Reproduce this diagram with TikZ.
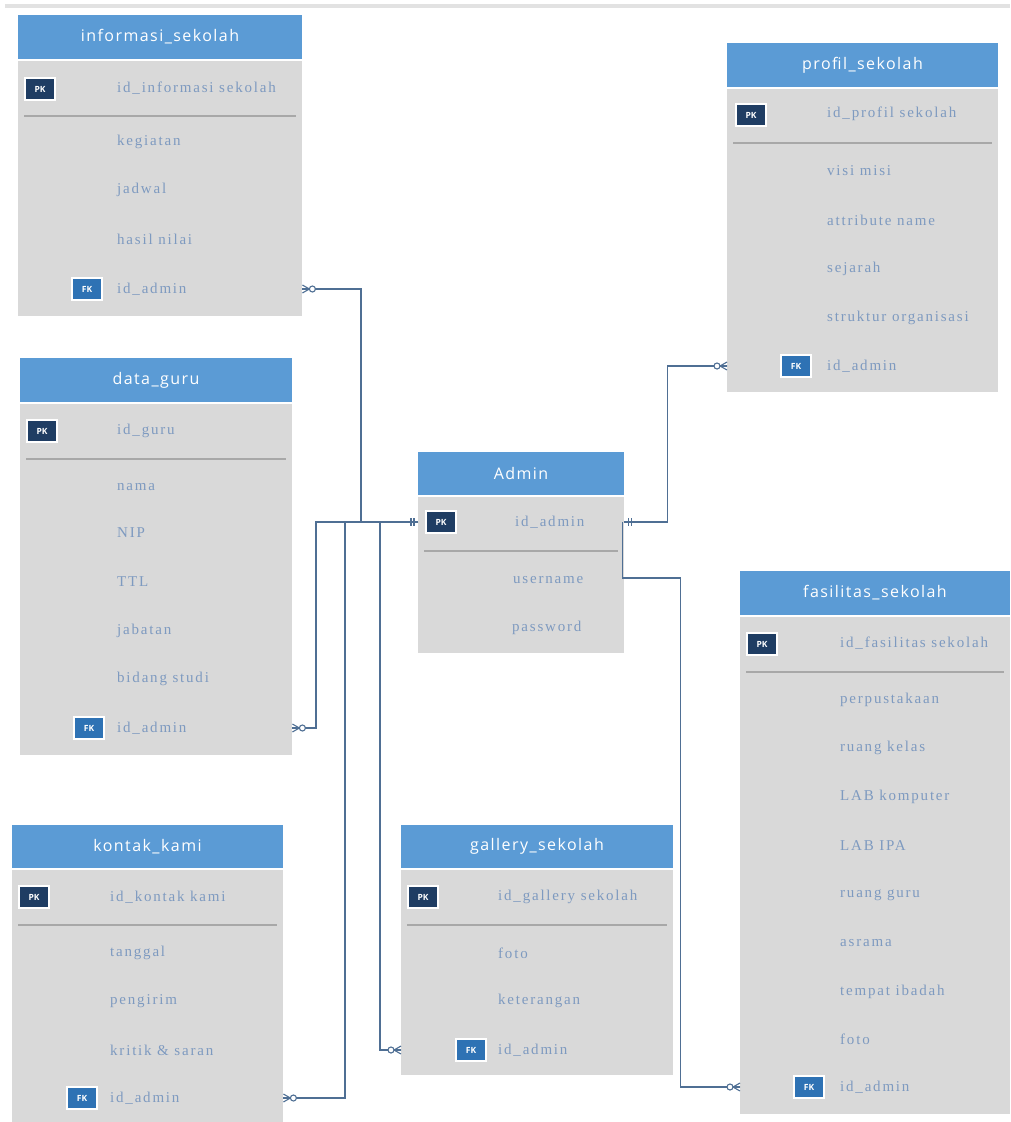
\documentclass[tikz,border=0pt]{standalone}
\usepackage{fontspec}
\setmainfont{Liberation Serif}
\newfontfamily\hdrfont[LetterSpace=9]{Open Sans}
\newfontfamily\attrfont[LetterSpace=12]{Liberation Serif}
\newfontfamily\badgefont{Open Sans}
\definecolor{hdrblue}{HTML}{5B9BD5}
\definecolor{bodygrey}{HTML}{D9D9D9}
\definecolor{attrblue}{HTML}{7E9AC0}
\definecolor{pknavy}{HTML}{1F3D63}
\definecolor{fkblue}{HTML}{2E72B4}
\definecolor{sepgrey}{HTML}{A8A8A8}
\definecolor{conncol}{HTML}{4F6F94}
\definecolor{topline}{HTML}{E2E2E2}
\tikzset{
  hdr/.style={fill=hdrblue, text=white, font=\hdrfont\fontsize{16}{19}\selectfont, inner sep=0},
  tbody/.style={fill=bodygrey, inner sep=0, anchor=north west},
  attr/.style={text=attrblue, font=\attrfont\fontsize{15}{17}\selectfont, anchor=west, inner sep=0},
  pkbadge/.style={fill=pknavy, draw=white, line width=1.5pt, text=white,
    font=\badgefont\bfseries\fontsize{8.5}{9}\selectfont, minimum width=30, minimum height=22, inner sep=0},
  fkbadge/.style={pkbadge, fill=fkblue},
  sepline/.style={draw=sepgrey, line width=1.2pt},
  conn/.style={draw=conncol, line width=1.4pt},
  marker/.style={draw=conncol, line width=1.1pt},
  zmany/.pic={\draw[marker] (0,-4) -- (7,0) -- (0,4) (0,0) -- (7,0);
              \draw[marker, fill=white] (10,0) circle (3);},
  onlyone/.pic={\draw[marker] (4,-4) -- (4,4) (7,-4) -- (7,4);}
}
\begin{document}
\begin{tikzpicture}[x=1pt,y=-1pt]
\useasboundingbox (0,0) rectangle (1010,1122);
\fill[topline] (5,4) rectangle (1010,8);

% ---------- informasi_sekolah ----------
\node[tbody, minimum width=284, minimum height=255] (infoB) at (18,61) {};
\node[hdr, minimum width=284, minimum height=44] (infoH) at (160,37) {informasi\_sekolah};
\node[pkbadge] (infoPKb) at (40,89) {PK};
\node[attr] (infoPK) at (117,88) {id\_informasi sekolah};
\draw[sepline] (24,116) -- (296,116);
\node[attr] (info1) at (117,142) {kegiatan};
\node[attr] (info2) at (117,190) {jadwal};
\node[attr] (info3) at (117,239) {hasil nilai};
\node[fkbadge] (infoFKb) at (87,289) {FK};
\node[attr] (infoFK) at (117,289) {id\_admin};

% ---------- profil_sekolah ----------
\node[tbody, minimum width=271, minimum height=303] (profB) at (727,89) {};
\node[hdr, minimum width=271, minimum height=44] (profH) at (862.5,65) {profil\_sekolah};
\node[pkbadge] (profPKb) at (751,115) {PK};
\node[attr] (profPK) at (827,114) {id\_profil sekolah};
\draw[sepline] (733,143) -- (992,143);
\node[attr] (prof1) at (827,171) {visi misi};
\node[attr] (prof2) at (827,220) {attribute name};
\node[attr] (prof3) at (827,269) {sejarah};
\node[attr] (prof4) at (827,318) {struktur organisasi};
\node[fkbadge] (profFKb) at (796,366) {FK};
\node[attr] (profFK) at (827,366) {id\_admin};

% ---------- data_guru ----------
\node[tbody, minimum width=272, minimum height=351] (guruB) at (20,404) {};
\node[hdr, minimum width=272, minimum height=44] (guruH) at (156,380) {data\_guru};
\node[pkbadge] (guruPKb) at (42,431) {PK};
\node[attr] (guruPK) at (117,431) {id\_guru};
\draw[sepline] (26,459) -- (286,459);
\node[attr] (guru1) at (117,487) {nama};
\node[attr] (guru2) at (117,533) {NIP};
\node[attr] (guru3) at (117,582) {TTL};
\node[attr] (guru4) at (117,631) {jabatan};
\node[attr] (guru5) at (117,679) {bidang studi};
\node[fkbadge] (guruFKb) at (89,728) {FK};
\node[attr] (guruFK) at (117,728) {id\_admin};

% ---------- Admin ----------
\node[tbody, minimum width=206, minimum height=156] (adminB) at (418,497) {};
\node[hdr, minimum width=206, minimum height=43] (adminH) at (521,473.5) {Admin};
\node[pkbadge] (adminPKb) at (441,522) {PK};
\node[attr] (adminPK) at (515,522) {id\_admin};
\draw[sepline] (424,551) -- (618,551);
\node[attr] (admin1) at (513,580) {username};
\node[attr] (admin2) at (512,628) {password};

% ---------- fasilitas_sekolah ----------
\node[tbody, minimum width=270, minimum height=497] (fasB) at (740,617) {};
\node[hdr, minimum width=270, minimum height=44] (fasH) at (875,593) {fasilitas\_sekolah};
\node[pkbadge] (fasPKb) at (762,644) {PK};
\node[attr] (fasPK) at (840,643) {id\_fasilitas sekolah};
\draw[sepline] (746,672) -- (1004,672);
\node[attr] (fas1) at (840,700) {perpustakaan};
\node[attr] (fas2) at (840,748) {ruang kelas};
\node[attr] (fas3) at (840,797) {LAB komputer};
\node[attr] (fas4) at (840,846) {LAB IPA};
\node[attr] (fas5) at (840,895) {ruang guru};
\node[attr] (fas6) at (840,943) {asrama};
\node[attr] (fas7) at (840,992) {tempat ibadah};
\node[attr] (fas8) at (840,1039) {foto};
\node[fkbadge] (fasFKb) at (809,1087) {FK};
\node[attr] (fasFK) at (840,1087) {id\_admin};

% ---------- kontak_kami ----------
\node[tbody, minimum width=271, minimum height=255] (kontakB) at (12,870) {};
\node[hdr, minimum width=271, minimum height=43] (kontakH) at (147.5,846.5) {kontak\_kami};
\node[pkbadge] (kontakPKb) at (34,897) {PK};
\node[attr] (kontakPK) at (110,897) {id\_kontak kami};
\draw[sepline] (18,925) -- (277,925);
\node[attr] (kontak1) at (110,953) {tanggal};
\node[attr] (kontak2) at (110,1001) {pengirim};
\node[attr] (kontak3) at (110,1050) {kritik \& saran};
\node[fkbadge] (kontakFKb) at (82,1098) {FK};
\node[attr] (kontakFK) at (110,1098) {id\_admin};

% ---------- gallery_sekolah ----------
\node[tbody, minimum width=272, minimum height=205] (galB) at (401,870) {};
\node[hdr, minimum width=272, minimum height=43] (galH) at (537,846.5) {gallery\_sekolah};
\node[pkbadge] (galPKb) at (423,897) {PK};
\node[attr] (galPK) at (498,897) {id\_gallery sekolah};
\draw[sepline] (407,925) -- (667,925);
\node[attr] (gal1) at (498,953) {foto};
\node[attr] (gal2) at (498,1001) {keterangan};
\node[fkbadge] (galFKb) at (471,1050) {FK};
\node[attr] (galFK) at (498,1050) {id\_admin};

% ---------- connectors ----------
\draw[conn] (adminB.west |- adminPK) -- ++(-57,0) |- (infoB.east |- infoFK);
\draw[conn] (adminB.west |- adminPK) -- ++(-102,0) |- (guruB.east |- guruFK);
\draw[conn] (adminB.west |- adminPK) -- ++(-73,0) |- (kontakB.east |- kontakFK);
\draw[conn] (adminB.west |- adminPK) -- ++(-38,0) |- (galB.west |- galFK);
\draw[conn] (adminB.east |- adminPK) -- ++(43,0) |- (profB.west |- profFK);
\draw[conn] ([xshift=-2pt]adminB.east |- adminPK) -- ++(0,56) -- ++(58,0) |- (fasB.west |- fasFK);

% ---------- cardinality markers ----------
\pic[xscale=-1] at (adminB.west |- adminPK) {onlyone};
\pic at (adminB.east |- adminPK) {onlyone};
\pic at (infoB.east |- infoFK) {zmany};
\pic at (guruB.east |- guruFK) {zmany};
\pic at (kontakB.east |- kontakFK) {zmany};
\pic[xscale=-1] at (galB.west |- galFK) {zmany};
\pic[xscale=-1] at (profB.west |- profFK) {zmany};
\pic[xscale=-1] at (fasB.west |- fasFK) {zmany};
\end{tikzpicture}
\end{document}
